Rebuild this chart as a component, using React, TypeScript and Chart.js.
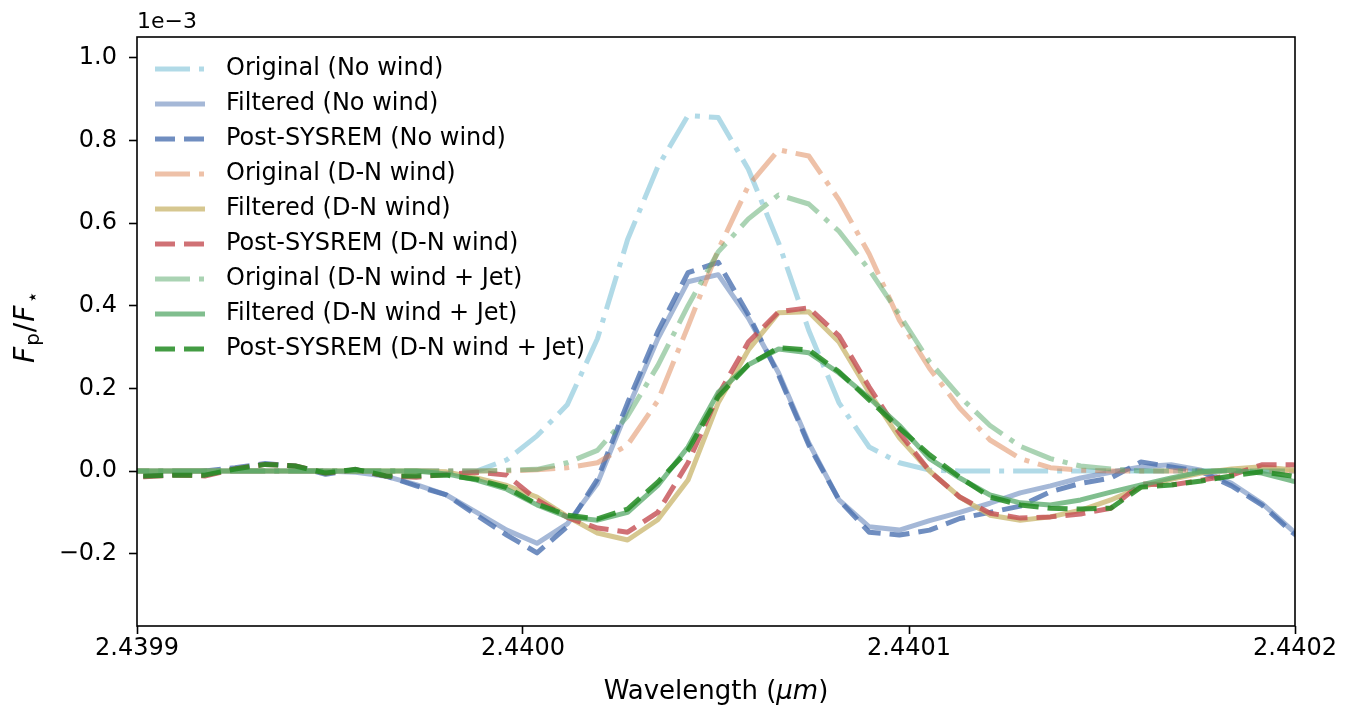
import React, { useEffect, useRef } from "react";
import { Chart, registerables } from "chart.js";

Chart.register(...registerables);

// Wavelength grid (µm)
const wavelengths = [
  2.4398941, 2.43990192, 2.43990975, 2.43991757, 2.43992539, 2.43993322, 2.43994104,
  2.43994886, 2.43995669, 2.43996451, 2.43997233, 2.43998016, 2.43998798, 2.4399958,
  2.44000363, 2.44001145, 2.44001928, 2.4400271, 2.44003492, 2.44004275, 2.44005057,
  2.44005839, 2.44006622, 2.44007404, 2.44008186, 2.44008969, 2.44009751, 2.44010533,
  2.44011316, 2.44012098, 2.44012881, 2.44013663, 2.44014445, 2.44015228, 2.4401601,
  2.44016792, 2.44017575, 2.44018357, 2.44019139, 2.44019922, 2.44020704,
];

// Fp/F* values in units of 1e-3
const origNoWind = [
  0, 0, 0, 0, 0, 0, 0, 0, 0, 0, 0, 0, 0,
  0.027, 0.085, 0.16, 0.32, 0.56, 0.736, 0.86, 0.855, 0.73, 0.552, 0.34, 0.165, 0.058, 0.02, 0.002,
  0, 0, 0, 0, 0, 0, 0, 0, 0, 0, 0, 0, 0,
];
const filtNoWind = [
  0, 0, 0, 0, 0, 0, 0, 0,
  -0.003, -0.013, -0.033, -0.058, -0.1, -0.143, -0.175, -0.128, -0.03, 0.15, 0.32, 0.458, 0.475,
  0.37, 0.237, 0.068, -0.07, -0.135, -0.143, -0.12, -0.1, -0.078, -0.053, -0.036, -0.017, -0.003,
  0.01, 0.015, 0.002, -0.03, -0.078, -0.143, -0.2,
];
const sysNoWind = [
  -0.01, -0.012, -0.008, 0.0, 0.008, 0.018, 0.012, -0.008, 0.003, -0.012,
  -0.036, -0.058, -0.107, -0.155, -0.198, -0.135, -0.02, 0.165, 0.337, 0.48, 0.505, 0.378, 0.232,
  0.063, -0.07, -0.148, -0.155, -0.143, -0.115, -0.1, -0.085, -0.05, -0.03, -0.017, 0.022, 0.01,
  -0.002, -0.036, -0.082, -0.148, -0.2,
];
const origDN = [
  0, 0, 0, 0, 0, 0, 0, 0, 0, 0, 0, 0, 0, 0,
  0.003, 0.008, 0.02, 0.063, 0.17, 0.35, 0.535, 0.69, 0.777, 0.762, 0.656, 0.525, 0.365, 0.248,
  0.152, 0.075, 0.03, 0.008, 0.002,
  0, 0, 0, 0, 0, 0, 0, 0,
];
const filtDN = [
  0, 0, 0, 0, 0, 0, 0, 0, 0, 0, 0,
  -0.002, -0.017, -0.035, -0.063, -0.11, -0.15, -0.167, -0.118, -0.022, 0.165, 0.293, 0.383, 0.385,
  0.312, 0.19, 0.08, 0.0, -0.063, -0.107, -0.119, -0.111, -0.095, -0.07, -0.039, -0.02, -0.005,
  0.005, 0.01, 0.003, -0.005,
];
const sysDN = [
  -0.012, -0.014, -0.01, -0.012, 0.005, 0.016, 0.012, -0.005, 0.003, -0.012,
  -0.015, -0.008, -0.003, -0.01, -0.07, -0.112, -0.138, -0.148, -0.1, 0.02, 0.184, 0.312, 0.385,
  0.395, 0.327, 0.203, 0.092, 0.0, -0.063, -0.102, -0.114, -0.111, -0.104, -0.09, -0.031, -0.034,
  -0.022, -0.01, 0.015, 0.015, 0.01,
];
const origJet = [
  0, 0, 0, 0, 0, 0, 0, 0, 0, 0, 0, 0, 0,
  0.002, 0.004, 0.02, 0.05, 0.133, 0.255, 0.4, 0.53, 0.61, 0.668, 0.646, 0.58, 0.487, 0.378, 0.264,
  0.18, 0.11, 0.06, 0.03, 0.012, 0.005,
  0, 0, 0, 0, 0, 0, 0,
];
const filtJet = [
  0, 0, 0, 0, 0, 0, 0, 0, 0, 0, 0,
  -0.007, -0.022, -0.044, -0.082, -0.111, -0.119, -0.1, -0.035, 0.058, 0.19, 0.257, 0.295, 0.286,
  0.237, 0.177, 0.11, 0.03, -0.017, -0.058, -0.077, -0.082, -0.07, -0.051, -0.034, -0.017, -0.002,
  0.002, -0.005, -0.024, -0.035,
];
const sysJet = [
  -0.012, -0.012, -0.01, -0.01, 0.005, 0.016, 0.012, -0.005, 0.004, -0.012,
  -0.012, -0.01, -0.02, -0.04, -0.08, -0.107, -0.116, -0.092, -0.027, 0.05, 0.18, 0.257, 0.298,
  0.293, 0.24, 0.172, 0.104, 0.039, -0.015, -0.063, -0.082, -0.09, -0.092, -0.09, -0.039, -0.034,
  -0.024, -0.012, -0.002, -0.012, -0.015,
];

const seriesLabels = [
  "Original (No wind)",
  "Filtered (No wind)",
  "Post-SYSREM (No wind)",
  "Original (D-N wind)",
  "Filtered (D-N wind)",
  "Post-SYSREM (D-N wind)",
  "Original (D-N wind + Jet)",
  "Filtered (D-N wind + Jet)",
  "Post-SYSREM (D-N wind + Jet)",
];

const xTicks = [2.4399, 2.44, 2.4401, 2.4402];
const yTicks = [-0.2, 0.0, 0.2, 0.4, 0.6, 0.8, 1.0];

const FONT = "'DejaVu Sans', sans-serif";
const DASHDOT = [35, 9, 5, 9];
const DASHED = [20, 9];
const SOLID: number[] = [];

export default function App() {
  const ref = useRef<HTMLCanvasElement | null>(null);

  useEffect(() => {
    const values = [origNoWind, filtNoWind, sysNoWind, origDN, filtDN, sysDN, origJet, filtJet, sysJet];
    const colors = [
      "rgba(173,216,230,0.95)",
      "rgba(76,114,176,0.5)",
      "rgba(76,114,176,0.8)",
      "rgba(221,132,82,0.5)",
      "rgba(204,185,116,0.8)",
      "rgba(196,78,82,0.8)",
      "rgba(85,168,104,0.5)",
      "rgba(85,168,104,0.75)",
      "rgba(34,139,34,0.85)",
    ];
    const dashes = [DASHDOT, SOLID, DASHED, DASHDOT, SOLID, DASHED, DASHDOT, SOLID, DASHED];
    const LW = 5;
    const n = values.length;

    const decor = {
      id: "decor",
      afterDatasetsDraw(chart: any) {
        const { ctx, chartArea } = chart;
        ctx.save();
        ctx.strokeStyle = "#000";
        ctx.lineWidth = 1.6;
        ctx.setLineDash([]);
        ctx.strokeRect(chartArea.left, chartArea.top, chartArea.right - chartArea.left, chartArea.bottom - chartArea.top);
        ctx.restore();
      },
      afterDraw(chart: any) {
        const { ctx, chartArea } = chart;
        ctx.save();
        // legend
        const rowY0 = 69;
        const rowDY = 35.0;
        for (let i = 0; i < n; i++) {
          const y = rowY0 + i * rowDY;
          ctx.beginPath();
          ctx.strokeStyle = colors[i];
          ctx.lineWidth = LW;
          ctx.lineCap = "butt";
          ctx.setLineDash(dashes[i]);
          ctx.moveTo(155, y);
          ctx.lineTo(205, y);
          ctx.stroke();
          ctx.setLineDash([]);
          ctx.fillStyle = "#000";
          ctx.font = `24px ${FONT}`;
          ctx.textBaseline = "middle";
          ctx.textAlign = "left";
          ctx.fillText(seriesLabels[i], 226, y);
        }
        // offset text
        ctx.font = `22px ${FONT}`;
        ctx.textBaseline = "alphabetic";
        ctx.textAlign = "left";
        ctx.fillText("1e\u22123", chartArea.left, 28);

        // x label
        const LF = 26;
        const xl1 = "Wavelength (";
        const xl2 = "\u03bcm";
        const xl3 = ")";
        ctx.font = `${LF}px ${FONT}`;
        const w1 = ctx.measureText(xl1).width;
        const w3 = ctx.measureText(xl3).width;
        ctx.font = `italic ${LF}px ${FONT}`;
        const w2 = ctx.measureText(xl2).width;
        const cx = (chartArea.left + chartArea.right) / 2;
        const x0 = cx - (w1 + w2 + w3) / 2;
        const by = 699;
        ctx.font = `${LF}px ${FONT}`;
        ctx.fillText(xl1, x0, by);
        ctx.font = `italic ${LF}px ${FONT}`;
        ctx.fillText(xl2, x0 + w1, by);
        ctx.font = `${LF}px ${FONT}`;
        ctx.fillText(xl3, x0 + w1 + w2, by);

        // y label: F_p / F_star
        const YF = 28;
        const cy = 327;
        ctx.translate(34, cy);
        ctx.rotate(-Math.PI / 2);
        const big = `italic ${YF}px ${FONT}`;
        const small = `${Math.round(YF * 0.7)}px ${FONT}`;
        const reg = `${YF}px ${FONT}`;
        const parts: [string, string, number, number][] = [
          ["F", big, 0, 1],
          ["p", small, 5, 1],
          ["/", reg, 0, 1],
          ["F", big, 0, 2],
          ["\u22c6", small, 5, 0],
        ];
        let total = 0;
        const widths = parts.map(([t, f, , extra]) => {
          ctx.font = f;
          const w = ctx.measureText(t).width + extra;
          total += w;
          return w;
        });
        let px = -total / 2;
        parts.forEach(([t, f, dy], i) => {
          ctx.font = f;
          ctx.fillText(t, px, dy);
          px += widths[i];
        });
        ctx.restore();
      },
    };

    const chart = new Chart(ref.current as HTMLCanvasElement, {
      type: "line",
      data: {
        datasets: values.map((vals, i) => ({
          label: seriesLabels[i],
          data: wavelengths.map((x, j) => ({ x, y: vals[j] })),
          borderColor: colors[i],
          backgroundColor: colors[i],
          borderWidth: LW,
          borderDash: dashes[i],
          borderCapStyle: "butt",
          borderJoinStyle: "round",
          pointRadius: 0,
          pointHoverRadius: 0,
          tension: 0,
          fill: false,
          clip: 0,
          order: n - i,
        })),
      },
      options: {
        responsive: false,
        animation: false,
        devicePixelRatio: 1,
        events: [],
        layout: { padding: { top: 37, right: 65, left: 0, bottom: 0 } },
        plugins: { legend: { display: false }, tooltip: { enabled: false } },
        scales: {
          x: {
            type: "linear",
            min: 2.4399,
            max: 2.4402,
            afterBuildTicks: (s: any) => {
              s.ticks = xTicks.map((v) => ({ value: v }));
            },
            afterFit: (s: any) => {
              s.height = 83;
            },
            ticks: {
              callback: (v: any) => Number(v).toFixed(4),
              font: { family: FONT, size: 24 },
              color: "#000",
              padding: 0,
              maxRotation: 0,
              autoSkip: false,
            },
            grid: { drawOnChartArea: false, tickLength: 8, tickWidth: 1.6, tickColor: "#000" },
            border: { display: false },
          },
          y: {
            type: "linear",
            min: -0.375,
            max: 1.05,
            afterBuildTicks: (s: any) => {
              s.ticks = yTicks.map((v) => ({ value: v }));
            },
            afterFit: (s: any) => {
              s.width = 137;
            },
            ticks: {
              callback: (v: any) => {
                const num = Number(v);
                if (Math.abs(num) < 1e-9) return "0.0";
                return num.toFixed(1).replace("-", "\u2212");
              },
              font: { family: FONT, size: 24 },
              color: "#000",
              padding: 12,
              autoSkip: false,
            },
            grid: { drawOnChartArea: false, tickLength: 8, tickWidth: 1.6, tickColor: "#000" },
            border: { display: false },
          },
        },
      },
      plugins: [decor],
    } as any);

    return () => chart.destroy();
  }, []);

  return (
    <div style={{ position: "absolute", left: 0, top: 0, width: 1360, height: 709, background: "#fff" }}>
      <canvas ref={ref} width={1360} height={709} style={{ display: "block", width: 1360, height: 709 }} />
    </div>
  );
}
